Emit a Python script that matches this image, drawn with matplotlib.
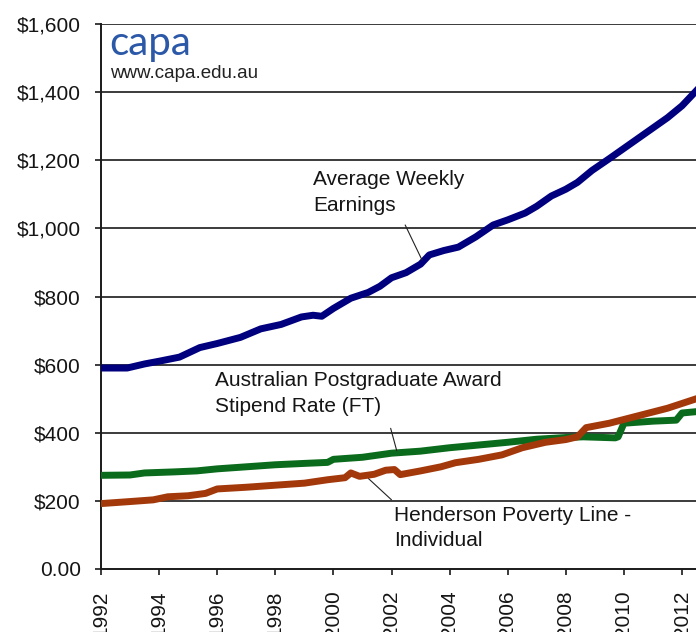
import matplotlib
matplotlib.use("Agg")
import matplotlib.pyplot as plt

# Average Weekly Earnings
awe_years = [1992.0, 1992.9, 1993.5, 1994.0, 1994.7, 1995.4, 1996.0, 1996.8, 1997.5,
             1998.2, 1998.9, 1999.3, 1999.6, 2000.0, 2000.6, 2001.2, 2001.6, 2002.0,
             2002.5, 2003.0, 2003.3, 2003.8, 2004.3, 2004.9, 2005.5, 2006.0, 2006.6,
             2007.0, 2007.5, 2008.0, 2008.4, 2008.9, 2009.5, 2010.0, 2010.5, 2011.0,
             2011.5, 2012.0, 2012.5]
awe_vals = [590, 590, 602, 610, 622, 650, 662, 680, 705,
            718, 740, 745, 742, 765, 795, 812, 830, 855,
            870, 895, 922, 935, 945, 975, 1010, 1025, 1045,
            1065, 1095, 1115, 1135, 1170, 1205, 1235, 1265, 1295,
            1325, 1360, 1405]

# Australian Postgraduate Award stipend (FT)
apa_years = [1992.0, 1993.0, 1993.5, 1994.5, 1995.3, 1996.0, 1997.0, 1998.0, 1999.0,
             1999.8, 2000.0, 2001.0, 2002.0, 2003.0, 2004.0, 2005.0, 2006.0, 2007.0,
             2008.0, 2008.6, 2009.7, 2009.8, 2010.0, 2011.0, 2011.8, 2012.0, 2012.5]
apa_vals = [275, 276, 282, 285, 288, 294, 300, 306, 310,
            313, 322, 328, 340, 346, 356, 364, 372, 381,
            386, 388, 385, 388, 428, 434, 437, 458, 462]

# Henderson poverty line - individual
hpl_years = [1992.0, 1993.0, 1993.8, 1994.3, 1995.0, 1995.6, 1996.0, 1997.0, 1998.0,
             1999.0, 1999.8, 2000.4, 2000.6, 2000.9, 2001.4, 2001.8, 2002.1, 2002.3,
             2003.0, 2003.7, 2004.2, 2005.0, 2005.8, 2006.5, 2007.3, 2008.0, 2008.4,
             2008.7, 2009.5, 2010.5, 2011.5, 2012.5]
hpl_vals = [192, 198, 203, 212, 215, 222, 235, 240, 246,
            252, 262, 268, 282, 272, 278, 290, 292, 277,
            288, 300, 312, 322, 335, 356, 372, 380, 388,
            415, 428, 450, 472, 500]

y_ticks = [0, 200, 400, 600, 800, 1000, 1200, 1400, 1600]
y_labels = ["0.00", "$200", "$400", "$600", "$800", "$1,000", "$1,200", "$1,400", "$1,600"]
x_ticks = list(range(1992, 2013, 2))

TXT = "#151515"
plt.rcParams["font.family"] = ["Liberation Sans", "DejaVu Sans"]

fig = plt.figure(figsize=(6.96, 6.32), dpi=100)
ax = fig.add_axes([0.1451, 0.0997, 0.8549, 0.8623])

for y in y_ticks[1:]:
    ax.axhline(y, color="#1a1a1a", lw=1.2, zorder=1)

ax.plot(awe_years, awe_vals, color="#00007f", lw=5, solid_joinstyle="round", zorder=3)
ax.plot(apa_years, apa_vals, color="#0b6b1c", lw=5, solid_joinstyle="round", zorder=3)
ax.plot(hpl_years, hpl_vals, color="#a3390b", lw=5, solid_joinstyle="round", zorder=4)

ax.set_xlim(1992, 2012.48)
ax.set_ylim(0, 1600)
ax.set_yticks(y_ticks)
ax.set_yticklabels(y_labels)
ax.set_xticks(x_ticks)
ax.set_xticklabels([str(x) for x in x_ticks], rotation=90, va="top")
ax.tick_params(axis="y", length=4.5, width=1.2, pad=10, labelsize=15, colors="#1a1a1a",
               labelcolor=TXT)
ax.tick_params(axis="x", length=4.5, width=1.2, pad=11, labelsize=15, colors="#1a1a1a",
               labelcolor=TXT)
for s in ["top", "right"]:
    ax.spines[s].set_visible(False)
for s in ["left", "bottom"]:
    ax.spines[s].set_linewidth(1.4)
    ax.spines[s].set_color("#1a1a1a")

# series labels with leader lines
lead = dict(arrowstyle="-", lw=0.8, color="#222222", shrinkA=0, shrinkB=0)
ax.text(1999.3, 1172, "Average Weekly\nEarnings", fontsize=15, color=TXT,
        va="top", ha="left", linespacing=1.45)
ax.annotate("", xy=(2003.05, 907), xytext=(2002.47, 1010), arrowprops=lead)

ax.text(1995.92, 582, "Australian Postgraduate Award\nStipend Rate (FT)", fontsize=15,
        color=TXT, va="top", ha="left", linespacing=1.45)
ax.annotate("", xy=(2002.18, 347), xytext=(2001.97, 413), arrowprops=lead)

ax.text(2002.09, 186, "Henderson Poverty Line -\nIndividual", fontsize=15, color=TXT,
        va="top", ha="left", linespacing=1.45)
ax.annotate("", xy=(2002.0, 203), xytext=(2001.2, 266), arrowprops=lead)

# logo
ax.text(1992.3, 1510, "capa", fontsize=29, color="#2c58a8", family=["Lato", "DejaVu Sans"],
        fontweight="normal", va="baseline", ha="left")
ax.text(1992.3, 1442, "www.capa.edu.au", fontsize=13.5, color="#222222",
        va="baseline", ha="left")

fig.savefig("out.png", dpi=100)
